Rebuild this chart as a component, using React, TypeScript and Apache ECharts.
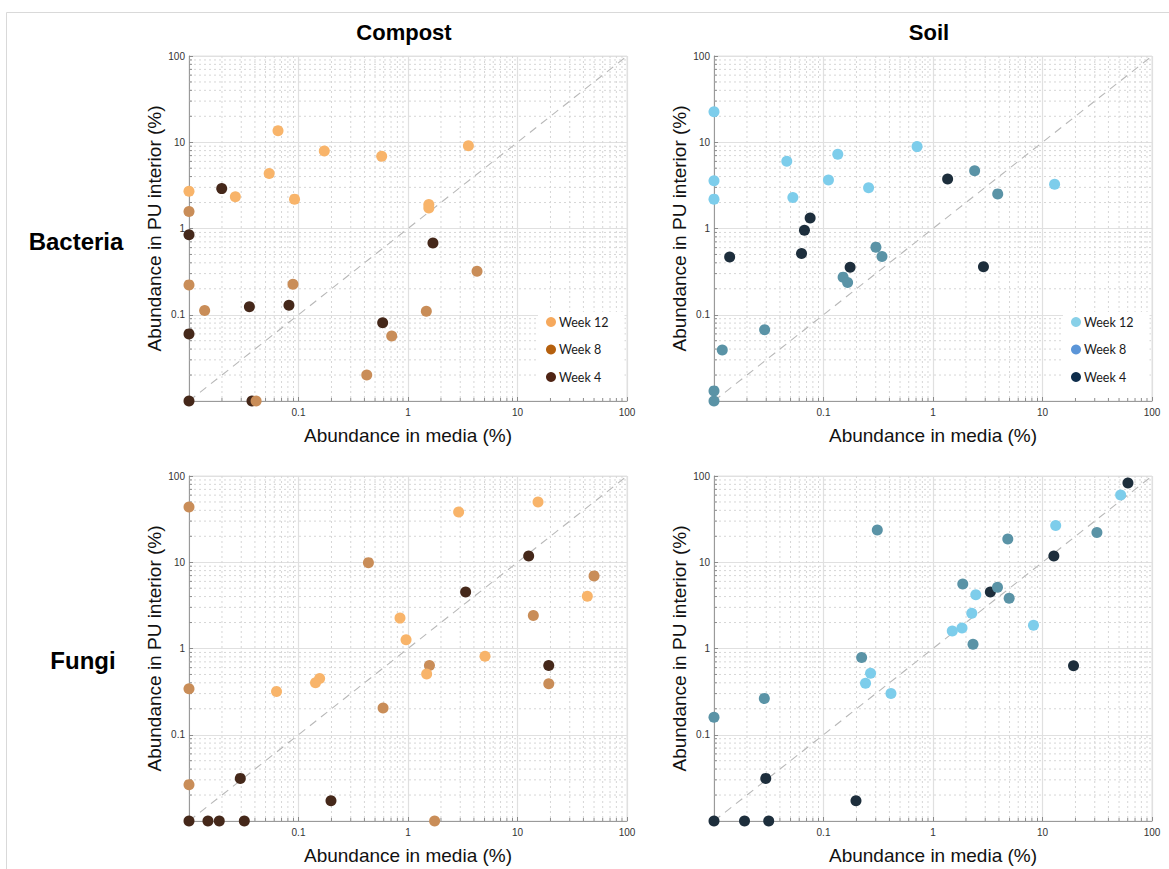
import React, { useEffect, useRef } from "react";
import * as echarts from "echarts";

// Abundance (%) pairs: [in media, in PU interior]
const compostBacteriaW12 = [[0.01, 2.7], [0.065, 13.6], [0.172, 7.9], [0.575, 6.9], [3.56, 9.1], [0.054, 4.34], [0.0265, 2.33], [0.092, 2.19], [1.55, 1.9], [1.55, 1.73]];
const compostBacteriaW8 = [[0.01, 1.57], [0.01, 0.222], [0.0139, 0.112], [0.089, 0.226], [1.47, 0.11], [4.27, 0.32], [0.71, 0.0566], [0.42, 0.02], [0.041, 0.01]];
const compostBacteriaW4 = [[0.0199, 2.9], [0.01, 0.845], [1.69, 0.68], [0.0356, 0.124], [0.0818, 0.129], [0.587, 0.0807], [0.01, 0.06], [0.01, 0.01], [0.0376, 0.01]];

const soilBacteriaW12 = [[0.01, 22.6], [0.01, 3.57], [0.01, 2.19], [0.0462, 6.03], [0.0525, 2.29], [0.135, 7.26], [0.111, 3.66], [0.258, 2.96], [0.715, 8.9], [12.9, 3.26]];
const soilBacteriaW8 = [[2.4, 4.66], [3.9, 2.52], [0.301, 0.608], [0.342, 0.474], [0.151, 0.273], [0.166, 0.237], [0.029, 0.067], [0.0119, 0.039], [0.01, 0.0131], [0.01, 0.01]];
const soilBacteriaW4 = [[1.36, 3.76], [2.89, 0.36], [0.0755, 1.32], [0.067, 0.957], [0.063, 0.513], [0.0139, 0.466], [0.175, 0.356]];

const compostFungiW12 = [[15.4, 50], [2.9, 38.3], [43.4, 4.04], [0.845, 2.25], [0.96, 1.26], [5.05, 0.815], [1.48, 0.505], [0.156, 0.45], [0.143, 0.4], [0.063, 0.318]];
const compostFungiW8 = [[0.01, 43.7], [0.435, 9.9], [50, 6.95], [13.95, 2.41], [1.57, 0.635], [19.3, 0.39], [0.01, 0.341], [0.592, 0.204], [0.01, 0.0264], [1.75, 0.01]];
const compostFungiW4 = [[12.65, 11.8], [3.36, 4.53], [19.3, 0.635], [0.0294, 0.0312], [0.198, 0.0172], [0.01, 0.01], [0.0149, 0.01], [0.0189, 0.01], [0.032, 0.01]];

const soilFungiW12 = [[51.7, 60.2], [13.2, 26.6], [2.46, 4.19], [2.26, 2.57], [1.84, 1.73], [1.5, 1.6], [8.27, 1.86], [0.269, 0.517], [0.242, 0.396], [0.413, 0.301]];
const soilFungiW8 = [[0.31, 23.7], [4.82, 18.6], [31.4, 22.1], [1.87, 5.61], [3.88, 5.13], [4.96, 3.83], [2.32, 1.12], [0.223, 0.787], [0.0288, 0.264], [0.01, 0.16]];
const soilFungiW4 = [[60.3, 83], [12.7, 11.8], [3.34, 4.53], [19.2, 0.63], [0.0297, 0.0312], [0.198, 0.0172], [0.01, 0.01], [0.019, 0.01], [0.0316, 0.01]];

const weekNames = ["Week 12", "Week 8", "Week 4"];
const columnTitles = ["Compost", "Soil"];
const rowTitles = ["Bacteria", "Fungi"];
const axisMin = 0.01;
const axisMax = 100;
const decades = [0.01, 0.1, 1, 10];
const minorSteps = [2, 3, 4, 5, 6, 7, 8, 9];

const compostPoint = ["#f8b46a", "#c98d58", "#45281a"];
const compostLegend = ["#f6a95d", "#b5600e", "#4f2414"];
const soilPoint = ["#7dcdeb", "#5a93a6", "#1d2e3c"];
const soilLegend = ["#88d0e8", "#5b95d8", "#0e2d4c"];

const FONT = "'Liberation Sans', Arial, Helvetica, sans-serif";

const panels = [
  { left: 189, top: 56, weeks: [compostBacteriaW12, compostBacteriaW8, compostBacteriaW4], colors: compostPoint, legend: compostLegend },
  { left: 714, top: 56, weeks: [soilBacteriaW12, soilBacteriaW8, soilBacteriaW4], colors: soilPoint, legend: soilLegend },
  { left: 189, top: 476, weeks: [compostFungiW12, compostFungiW8, compostFungiW4], colors: compostPoint, legend: null },
  { left: 714, top: 476, weeks: [soilFungiW12, soilFungiW8, soilFungiW4], colors: soilPoint, legend: null },
];
const PW = 438;
const PH = 345;

const minorValues: number[] = [];
decades.forEach((d) => minorSteps.forEach((s) => minorValues.push(+(d * s).toPrecision(2))));

// dotted minor grid lines and inward minor ticks at 2..9 of every decade
function renderMinor(params: any, api: any) {
  const cs = params.coordSys;
  const v = api.value(0);
  const p = api.coord([v, v]);
  const l = cs.x, t = cs.y, r = cs.x + cs.width, b = cs.y + cs.height;
  const dotted = { stroke: "#d6d6d6", lineWidth: 1, lineDash: [2, 3], fill: null };
  const tick = { stroke: "#8c8c8c", lineWidth: 1, fill: null };
  return {
    type: "group",
    silent: true,
    children: [
      { type: "line", shape: { x1: p[0], y1: t, x2: p[0], y2: b }, style: dotted },
      { type: "line", shape: { x1: l, y1: p[1], x2: r, y2: p[1] }, style: dotted },
      { type: "line", shape: { x1: p[0], y1: b, x2: p[0], y2: b - 3 }, style: tick },
      { type: "line", shape: { x1: l, y1: p[1], x2: l + 3, y2: p[1] }, style: tick },
    ],
  };
}

const tickLabel = (v: number) => (v < 0.05 ? "" : String(+v.toPrecision(2)));

function buildOption() {
  const grid: any[] = [];
  const xAxis: any[] = [];
  const yAxis: any[] = [];
  const series: any[] = [];
  const legend: any[] = [];

  panels.forEach((p, i) => {
    grid.push({ left: p.left, top: p.top, width: PW, height: PH, show: true, borderColor: "#e2e2e2", borderWidth: 1, backgroundColor: "transparent" });
    const common = {
      type: "log",
      logBase: 10,
      min: axisMin,
      max: axisMax,
      splitNumber: 4,
      gridIndex: i,
      nameLocation: "middle",
      nameTextStyle: { fontFamily: FONT, fontSize: 19, color: "#111" },
      axisLine: { show: true, lineStyle: { color: "#9a9a9a", width: 1 } },
      axisTick: { show: true, inside: true, length: 4, lineStyle: { color: "#8c8c8c" } },
      axisLabel: { formatter: tickLabel, fontFamily: FONT, fontSize: 10, color: "#333" },
      splitLine: { show: true, lineStyle: { color: "#e0e0e0", width: 1.2 } },
      minorTick: { show: false },
    };
    xAxis.push({ ...common, name: "Abundance in media (%)", nameGap: 25, axisLabel: { ...common.axisLabel, margin: 6 } });
    yAxis.push({ ...common, name: "Abundance in PU interior (%)", nameGap: 22, axisLabel: { ...common.axisLabel, margin: 4 } });

    series.push({
      type: "custom",
      xAxisIndex: i,
      yAxisIndex: i,
      silent: true,
      z: 1,
      clip: false,
      renderItem: renderMinor,
      data: minorValues.map((v) => [v, v]),
    });
    // 1:1 reference line
    series.push({
      type: "line",
      xAxisIndex: i,
      yAxisIndex: i,
      silent: true,
      z: 2,
      symbol: "none",
      lineStyle: { color: "#b8b8b8", width: 1.1, type: [8, 6] },
      data: [[axisMin, axisMin], [axisMax, axisMax]],
    });
    // week 4 underneath, week 12 on top
    [2, 1, 0].forEach((w) => {
      series.push({
        type: "scatter",
        name: weekNames[w],
        xAxisIndex: i,
        yAxisIndex: i,
        z: 3,
        clip: false,
        symbol: "circle",
        symbolSize: 11,
        itemStyle: { color: p.colors[w], opacity: 1 },
        data: p.weeks[w],
      });
    });

    if (p.legend) {
      legend.push({
        orient: "vertical",
        left: p.left + PW - 89,
        top: p.top + 256,
        padding: [3, 16, 14, 8],
        backgroundColor: "#ffffff",
        itemWidth: 10,
        itemHeight: 10,
        itemGap: 13.5,
        icon: "circle",
        selectedMode: false,
        textStyle: { fontFamily: "Lato, 'Open Sans', sans-serif", fontSize: 12.5, lineHeight: 14, color: "#1a1a1a", padding: [0, 0, 0, -2] },
        data: weekNames.map((n, k) => ({ name: n, icon: "circle", itemStyle: { color: p.legend[k] } })),
      });
    }
  });

  const graphic: any[] = [
    { type: "line", shape: { x1: 6.5, y1: 12.5, x2: 1169, y2: 12.5 }, style: { stroke: "#d9d9d9", lineWidth: 1 }, silent: true },
    { type: "line", shape: { x1: 6.5, y1: 12.5, x2: 6.5, y2: 869 }, style: { stroke: "#d9d9d9", lineWidth: 1 }, silent: true },
  ];
  columnTitles.forEach((t, k) => {
    graphic.push({
      type: "text",
      x: panels[k].left + PW / 2 - 4,
      y: 32,
      style: { text: t, fontFamily: FONT, fontSize: 22, fontWeight: "bold", fill: "#000", align: "center", verticalAlign: "middle", textAlign: "center", textVerticalAlign: "middle" },
    });
  });
  rowTitles.forEach((t, k) => {
    graphic.push({
      type: "text",
      x: k === 0 ? 76 : 83,
      y: k === 0 ? 241 : 660,
      style: { text: t, fontFamily: FONT, fontSize: 24, fontWeight: "bold", fill: "#000", align: "center", verticalAlign: "middle", textAlign: "center", textVerticalAlign: "middle" },
    });
  });

  return {
    animation: false,
    backgroundColor: "#ffffff",
    textStyle: { fontFamily: FONT },
    grid,
    xAxis,
    yAxis,
    legend,
    series,
    graphic,
  };
}

export default function App() {
  const ref = useRef<HTMLDivElement>(null);
  useEffect(() => {
    if (!ref.current) return;
    const chart = echarts.init(ref.current, null, { renderer: "svg" });
    chart.setOption(buildOption() as any);
    return () => chart.dispose();
  }, []);
  return (
    <div
      ref={ref}
      style={{ position: "fixed", left: 0, top: 0, width: 1169, height: 869, background: "#fff" }}
    />
  );
}
